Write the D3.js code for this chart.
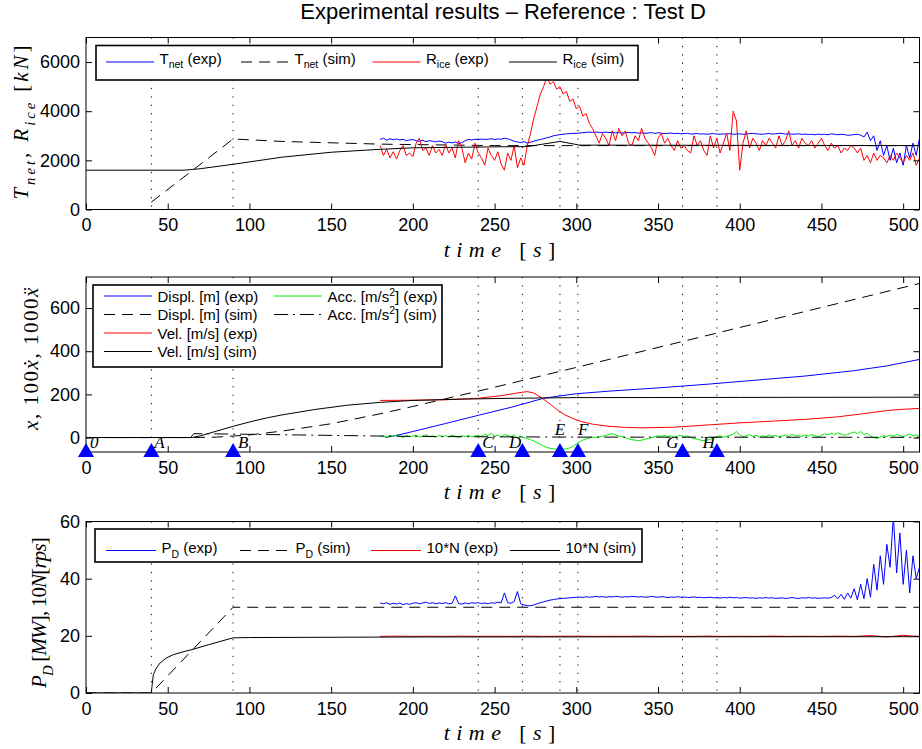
<!DOCTYPE html>
<html>
<head>
<meta charset="utf-8">
<script src="https://cdn.jsdelivr.net/npm/d3@7"></script>
<style>
  body { margin: 0; background: #fff; }
  .tex { font-family: "Liberation Serif", "Times New Roman", serif; font-style: italic; }
</style>
</head>
<body>
<div id="chart"></div>
<script>
// ---------- data ----------
const xTicks = [0, 50, 100, 150, 200, 250, 300, 350, 400, 450, 500];
const eventTimes = [40, 90, 240, 267, 290, 301, 365, 386];
const markerTimes = [0, 40, 90, 240, 267, 290, 301, 365, 386];
const markerLabels = ['0', 'A', 'B', 'C', 'D', 'E', 'F', 'G', 'H'];

// sampling grid of the measured (noisy) signals, every 2 s from 180 s
const expTime = d3.range(180, 511, 2);

// panel 1 : forces [kN]
const tNetExp = [
  2850, 2900, 2820, 2880, 2840, 2870, 2830, 2860, 2800, 2830,
  2850, 2800, 2780, 2820, 2760, 2800, 2780, 2750, 2790, 2760,
  2700, 2740, 2710, 2750, 2680, 2720, 2800, 2850, 2830, 2860,
  2840, 2870, 2850, 2860, 2880, 2850, 2870, 2860, 2900, 2880,
  2830, 2780, 2750, 2720, 2760, 2700, 2740, 2780, 2820, 2850,
  2880, 2920, 2950, 3000, 3020, 3050, 3060, 3080, 3090, 3100,
  3100, 3110, 3130, 3140, 3150, 3140, 3150, 3140, 3130, 3150,
  3130, 3140, 3120, 3130, 3110, 3120, 3140, 3120, 3130, 3110,
  3120, 3100, 3110, 3130, 3100, 3120, 3110, 3090, 3100, 3110,
  3090, 3100, 3080, 3090, 3100, 3070, 3080, 3090, 3070, 3080,
  3060, 3080, 3090, 3070, 3060, 3080, 3070, 3090, 3060, 3070,
  3080, 3060, 3070, 3090, 3100, 3080, 3070, 3060, 3080, 3090,
  3070, 3080, 3100, 3090, 3070, 3080, 3060, 3070, 3080, 3060,
  3070, 3050, 3060, 3040, 3070, 3050, 3060, 3040, 3080, 3060,
  3040, 3060, 3050, 3020, 3030, 3050, 3060, 3030, 2950, 3150,
  2800, 3000, 2400, 2800, 2200, 2600, 2000, 2500, 1900, 2300,
  1800, 2600, 2100, 2700, 2200, 2900
];
const rIceExp = [
  2600, 2200, 2450, 2100, 2350, 2050, 2400, 2600, 2200, 2300,
  2150, 2700, 2900, 2400, 2500, 2200, 2600, 2300, 2450, 2200,
  2650, 2300, 2500, 2100, 2800, 2500, 1900, 2300, 2050, 2700,
  2300, 2100, 1800, 2500, 2200, 2000, 2350, 1850, 1600, 2300,
  2000, 2600, 1700, 2100, 1800, 2600, 3100, 3700, 4200, 4700,
  5000, 5400, 5100, 5200, 4900, 5000, 4700, 4800, 4400, 4500,
  4100, 4200, 3800, 3900, 3500, 3300, 3000, 2700, 3100, 2900,
  2600, 3200, 2800, 3300, 3000, 3200, 2700, 2600, 3000, 2800,
  3300, 2900, 2700, 2500, 2200, 2900, 3100, 2700, 2900, 2600,
  2400, 2800, 2500, 2600, 2400, 2300, 3000, 2600, 2800, 2400,
  2200, 3000, 2500, 2900, 2300, 2700, 3100, 2400, 4000, 3600,
  1600, 2700, 3200, 2500, 2900, 2700, 2400, 2800, 2600, 2900,
  2700, 2500, 3000, 2600, 2800, 3200, 2600, 2800, 2500, 2900,
  2700, 2600, 2800, 2500, 2700, 2900, 2600, 2400, 2700, 2500,
  2600, 2300, 2500, 2400, 2600, 2500, 2300, 2500, 2000, 2200,
  1900, 2300, 2000, 2200, 2100, 1900, 2200, 2000, 2300, 2100,
  1900, 2200, 2000, 2300, 1800, 2100
];
const tNetSimTime = [40, 90, 120, 180, 250, 290, 510];
const tNetSim = [300, 2870, 2770, 2660, 2600, 2600, 2600];
const rIceSimTime = [0, 60, 70, 90, 120, 150, 180, 200, 250, 270, 290, 302, 510];
const rIceSim = [1600, 1600, 1660, 1840, 2130, 2330, 2450, 2510, 2550, 2560, 2770, 2620, 2600];

// panel 2 : motion (x, 100*v, 1000*a)
const displExpTime = [183, 190, 200, 220, 240, 260, 280, 290, 300, 320, 350, 380, 410, 440, 470, 490, 510];
const displExp = [0, 10, 28, 65, 103, 140, 182, 193, 203, 215, 230, 247, 266, 285, 310, 332, 362];
const displSimTime = [0, 65, 80, 100, 120, 150, 180, 200, 250, 300, 400, 510];
const displSim = [0, 0, 2, 12, 30, 64, 110, 144, 233, 325, 510, 714];
const velExpTime = [180, 200, 220, 240, 255, 265, 270, 274, 279, 284, 288, 293, 298, 303, 310, 320, 330, 340, 360, 380, 400, 420, 440, 460, 475, 490, 500, 510];
const velExp = [172, 173, 175, 182, 195, 208, 213, 206, 183, 155, 130, 105, 88, 74, 62, 52, 47, 45, 48, 58, 68, 76, 84, 96, 110, 125, 131, 135];
const velSimTime = [0, 65, 70, 80, 90, 100, 110, 120, 140, 160, 180, 200, 230, 260, 300, 400, 510];
const velSim = [0, 0, 8, 30, 52, 72, 90, 105, 130, 150, 163, 172, 178, 182, 185, 186, 187];
const accExp = [
  5, 8, 2, 10, 4, 12, 6, 0, 9, 3,
  7, 11, 2, 6, 14, 4, 8, 1, 10, 5,
  9, 3, 12, 6, 0, 8, 4, 10, 2, 7,
  11, 4, 16, 8, 20, 6, 12, 2, 14, 10,
  4, 12, -2, 6, 0, -6, -10, -16, -24, -32,
  -40, -46, -50, -52, -54, -55, -54, -52, -48, -40,
  -30, -20, -12, -6, -2, 2, 0, 4, 6, 10,
  14, 18, 12, 8, 4, -2, -6, -10, -12, -14,
  -12, -8, -4, 0, 4, 8, 6, 10, 4, 8,
  2, 6, 10, 4, 8, 0, -4, -8, -12, -14,
  -12, -8, -2, 4, 8, 2, 6, 10, 16, 28,
  12, 4, 8, 14, 6, 10, 2, 8, 4, 12,
  6, 10, 2, 8, 12, 4, 16, 8, 10, 4,
  12, 6, 14, 8, 4, 10, 18, 12, 20, 14,
  22, 16, 10, 14, 20, 26, 18, 28, 14, 20,
  6, 0, -4, 2, 8, 4, 12, 6, 14, 8,
  4, 10, 16, 8, 12, 6
];
const accSimTime = [0, 64, 66, 80, 100, 130, 160, 190, 230, 300, 510];
const accSim = [0, 0, 18, 17, 15, 12, 9, 6, 4, 2, 1];

// panel 3 : power [MW] and 10*N [rps]
const pdExp = [
  31.5, 31.2, 31.6, 31.0, 31.4, 31.1, 31.5, 30.9, 31.3, 31.0,
  31.4, 31.6, 31.2, 31.5, 31.8, 31.3, 31.6, 31.2, 31.5, 31.3,
  31.6, 31.2, 31.4, 34.0, 31.3, 31.1, 31.5, 31.2, 31.6, 31.4,
  31.6, 31.3, 31.5, 31.2, 31.6, 31.4, 31.8, 31.5, 35.0, 31.6,
  31.4, 32.0, 35.5, 31.2, 30.8, 30.6, 30.5, 30.8, 31.2, 31.6,
  31.9, 32.2, 32.5, 32.7, 32.9, 33.0, 33.1, 33.2, 33.3, 33.4,
  33.5, 33.6, 33.4, 33.7, 33.5, 33.6, 33.8, 33.6, 33.7, 33.5,
  33.7, 33.6, 33.8, 33.7, 33.5, 33.7, 33.6, 33.8, 33.7, 33.6,
  33.7, 33.5, 33.6, 33.8, 33.6, 33.5, 33.7, 33.6, 33.4, 33.6,
  33.5, 33.7, 33.5, 33.6, 33.4, 33.5, 33.6, 33.4, 33.5, 33.3,
  33.4, 33.5, 33.3, 33.4, 33.2, 33.4, 33.3, 33.5, 33.3, 33.4,
  33.2, 33.3, 33.4, 33.2, 33.3, 33.1, 33.3, 33.2, 33.4, 33.2,
  33.3, 33.1, 33.2, 33.3, 33.1, 33.2, 33.4, 33.2, 33.1, 33.3,
  33.2, 33.4, 33.2, 33.3, 33.1, 33.2, 33.3, 33.2, 33.4, 34.2,
  33.0, 34.5, 32.8, 35.0, 33.2, 36.5, 32.6, 38.0, 33.0, 40.0,
  33.5, 45.0, 36.0, 48.0, 38.0, 52.0, 44.0, 62.0, 42.0, 56.0,
  38.0, 50.0, 35.0, 48.0, 40.0, 44.0
];
const pdSimTime = [0, 40, 90, 510];
const pdSim = [0, 0, 30, 30];
const nExpTime = d3.range(180, 511, 10);
const nExp = [
  19.8, 19.9, 19.8, 19.85, 19.8, 19.9, 19.8, 19.85, 19.8, 19.9,
  19.8, 19.85, 19.9, 19.8, 19.85, 19.8, 19.9, 19.8, 19.85, 19.8,
  19.9, 19.8, 19.85, 19.8, 19.9, 19.8, 19.85, 19.8, 19.9, 19.8,
  20.1, 19.6, 20.2, 19.7
];
const nSimTime = [0, 40, 40.5, 41.2, 43, 45.3, 49, 53.4, 60, 65.6, 75, 90, 100, 200, 510];
const nSim = [0, 0, 3, 6.4, 8.7, 10.5, 12.2, 13.4, 14.5, 15.3, 16.9, 19.3, 19.4, 19.6, 19.7];

// ---------- drawing ----------
const W = 922, H = 749;
const SANS = '"Liberation Sans", Arial, Helvetica, sans-serif';
const svg = d3.select('#chart').append('svg').attr('width', W).attr('height', H);
const x = d3.scaleLinear().domain([0, 510]).range([86, 919.5]);

// text made of segments: [string, style] with style 'up', 'sub', 'sup'
function richText(parent, segs, size, cls) {
  const t = parent.append('text').attr('font-size', size);
  if (cls) t.attr('class', cls); else t.attr('font-family', SANS);
  let shift = 0;
  segs.forEach(([str, st = '']) => {
    const target = st.includes('sub') ? size * 0.33 : st.includes('sup') ? -size * 0.38 : 0;
    const sp = t.append('tspan').attr('dy', target - shift).text(str);
    shift = target;
    if (st.includes('sub') || st.includes('sup')) sp.attr('font-size', size * 0.7);
    if (st.includes('up')) sp.attr('font-style', 'normal');
  });
  return t;
}
function fitWidth(t, target) {
  const len = t.node().getComputedTextLength();
  const n = t.text().length;
  t.attr('letter-spacing', ((target - len) / n).toFixed(2));
}

function drawPanel(p) {
  const y = d3.scaleLinear().domain(p.yDomain).range([p.bottom, p.top]);
  const [x0, x1] = x.range();
  const g = svg.append('g');
  const clipId = 'clip-' + p.name;
  svg.append('clipPath').attr('id', clipId).append('rect')
    .attr('x', x0).attr('y', p.top).attr('width', x1 - x0).attr('height', p.bottom - p.top);

  // event markers (dotted verticals)
  g.selectAll('.ev').data(eventTimes).join('line')
    .attr('x1', d => x(d)).attr('x2', d => x(d))
    .attr('y1', p.top).attr('y2', p.bottom)
    .attr('stroke', '#000').attr('stroke-width', 1).attr('stroke-dasharray', '1.2,7.2');

  const plot = g.append('g').attr('clip-path', `url(#${clipId})`);
  const line = d3.line().x(d => x(d[0])).y(d => y(d[1]));
  p.series.forEach(s => {
    plot.append('path')
      .datum(d3.zip(s.t, s.v))
      .attr('fill', 'none')
      .attr('stroke', s.color)
      .attr('stroke-width', 1)
      .attr('stroke-linejoin', 'round')
      .attr('stroke-dasharray', s.dash || null)
      .attr('d', line);
  });

  // axes, MATLAB style ticks pointing inward on all four sides
  const styleAxis = a => {
    a.select('.domain').remove();
    a.attr('font-size', 18).attr('font-family', SANS);
    a.selectAll('line').attr('stroke', '#000');
  };
  g.append('g').attr('transform', `translate(0,${p.bottom})`)
    .call(d3.axisBottom(x).tickValues(xTicks).tickSize(-6).tickPadding(9)).call(styleAxis);
  g.append('g').attr('transform', `translate(0,${p.top})`)
    .call(d3.axisTop(x).tickValues(xTicks).tickSize(-6).tickFormat('')).call(styleAxis);
  g.append('g').attr('transform', `translate(${x0},0)`)
    .call(d3.axisLeft(y).tickValues(p.yTicks).tickSize(-6).tickPadding(6).tickFormat(d3.format('d')))
    .call(styleAxis);
  g.append('g').attr('transform', `translate(${x1},0)`)
    .call(d3.axisRight(y).tickValues(p.yTicks).tickSize(-6).tickFormat('')).call(styleAxis);

  g.append('rect').attr('x', x0).attr('y', p.top).attr('width', x1 - x0).attr('height', p.bottom - p.top)
    .attr('fill', 'none').attr('stroke', '#000').attr('stroke-width', 1);

  // axis labels
  const xl = richText(g, [['time'], [' [', 'up'], ['s'], [']', 'up']], 22, 'tex')
    .attr('x', (x0 + x1) / 2).attr('y', p.bottom + 47).attr('text-anchor', 'middle');
  fitWidth(xl, 118);
  const yl = richText(g, p.yLabel, 21, 'tex')
    .attr('text-anchor', 'middle')
    .attr('transform', `translate(${p.yLabelPos[0]},${p.yLabelPos[1]}) rotate(-90)`);
  fitWidth(yl, p.yLabelLen);

  return { g, y };
}

function drawLegend(box, entries) {
  const lg = svg.append('g');
  lg.append('rect').attr('x', box.x).attr('y', box.y).attr('width', box.w).attr('height', box.h)
    .attr('fill', '#fff').attr('stroke', '#000').attr('stroke-width', 1.6);
  entries.forEach(e => {
    lg.append('line')
      .attr('x1', e.x).attr('x2', e.x + e.len).attr('y1', e.ly).attr('y2', e.ly)
      .attr('stroke', e.s.color).attr('stroke-width', 1)
      .attr('stroke-dasharray', e.s.dash || null);
    richText(lg, e.s.label, 15).attr('x', e.x + e.len + 5.5).attr('y', e.by);
  });
}

// series styles + labels
const DASH = '11,7';
const DASHDOT = '14,5,2,5';
const s1 = [
  { t: expTime, v: tNetExp, color: '#0000ff', label: [['T'], ['net', 'sub'], [' (exp)']] },
  { t: tNetSimTime, v: tNetSim, color: '#000', dash: DASH, label: [['T'], ['net', 'sub'], [' (sim)']] },
  { t: expTime, v: rIceExp, color: '#ff0000', label: [['R'], ['ice', 'sub'], [' (exp)']] },
  { t: rIceSimTime, v: rIceSim, color: '#000', label: [['R'], ['ice', 'sub'], [' (sim)']] }
];
const s2 = [
  { t: displExpTime, v: displExp, color: '#0000ff', label: [['Displ. [m] (exp)']] },
  { t: displSimTime, v: displSim, color: '#000', dash: DASH, label: [['Displ. [m] (sim)']] },
  { t: velExpTime, v: velExp, color: '#ff0000', label: [['Vel. [m/s] (exp)']] },
  { t: velSimTime, v: velSim, color: '#000', label: [['Vel. [m/s] (sim)']] },
  { t: expTime, v: accExp, color: '#00ee00', label: [['Acc. [m/s'], ['2', 'sup'], ['] (exp)']] },
  { t: accSimTime, v: accSim, color: '#000', dash: DASHDOT, label: [['Acc. [m/s'], ['2', 'sup'], ['] (sim)']] }
];
const s3 = [
  { t: expTime, v: pdExp, color: '#0000ff', label: [['P'], ['D', 'sub'], [' (exp)']] },
  { t: pdSimTime, v: pdSim, color: '#000', dash: DASH, label: [['P'], ['D', 'sub'], [' (sim)']] },
  { t: nExpTime, v: nExp, color: '#ee0000', label: [['10*N (exp)']] },
  { t: nSimTime, v: nSim, color: '#000', label: [['10*N (sim)']] }
];

// title
svg.append('text').attr('x', 503).attr('y', 19).attr('text-anchor', 'middle')
  .attr('font-family', SANS).attr('font-size', 22)
  .text('Experimental results \u2013 Reference : Test D');

drawPanel({
  name: 'p1', top: 37.5, bottom: 209.5, yDomain: [0, 7000], yTicks: [0, 2000, 4000, 6000],
  series: s1,
  yLabel: [['T'], ['net', 'sub'], [', ', 'up'], ['R'], ['ice', 'sub'], [' [', 'up'], ['kN'], [']', 'up']],
  yLabelPos: [28, 121], yLabelLen: 157
});
drawLegend({ x: 96, y: 45.5, w: 542, h: 34.5 }, s1.map((s, i) => ({
  s, x: [106, 241, 372.5, 509][i], len: 48, ly: 62, by: 63.5
})));

const p2 = drawPanel({
  name: 'p2', top: 277, bottom: 452, yDomain: [-67, 744], yTicks: [0, 200, 400, 600],
  series: s2,
  yLabel: [['x'], [', 100', 'up'], ['x\u0307'], [', 1000', 'up'], ['x\u0308']],
  yLabelPos: [37.5, 358], yLabelLen: 147
});
drawLegend({ x: 93, y: 285, w: 349, h: 82 }, s2.map((s, i) => {
  const col = i < 4 ? 0 : 1, row = i < 4 ? i : i - 4;
  const ly = 296 + row * 18.5;
  return { s, x: col ? 274 : 104, len: 48, ly, by: ly + 5.5 };
}));

// event triangles on the bottom axis of the motion panel
const triY = p2.y.range()[0];
svg.append('g').selectAll('path').data(markerTimes).join('path')
  .attr('d', d => `M${x(d)},${triY - 9}L${x(d) + 8},${triY + 5}L${x(d) - 8},${triY + 5}Z`)
  .attr('fill', '#0000ff');
const labelPlace = {
  '0': [4, -4, 'start'], A: [3, -4, 'start'], B: [5, -4, 'start'], C: [4, -4, 'start'],
  D: [-1, -4, 'end'], E: [0, -17, 'middle'], F: [0, -17, 'start'], G: [-4, -4, 'end'], H: [-2, -4, 'end']
};
svg.append('g').selectAll('text').data(markerTimes).join('text')
  .attr('class', 'tex').attr('font-size', 17)
  .attr('x', (d, i) => x(d) + labelPlace[markerLabels[i]][0])
  .attr('y', (d, i) => triY + labelPlace[markerLabels[i]][1])
  .attr('text-anchor', (d, i) => labelPlace[markerLabels[i]][2])
  .text((d, i) => markerLabels[i]);

drawPanel({
  name: 'p3', top: 521.5, bottom: 693, yDomain: [0, 60], yTicks: [0, 20, 40, 60],
  series: s3,
  yLabel: [['P'], ['D', 'sub'], [' [', 'up'], ['MW'], ['], 10', 'up'], ['N'], ['[', 'up'], ['rps'], [']', 'up']],
  yLabelPos: [46, 613], yLabelLen: 150
});
drawLegend({ x: 95, y: 529, w: 547, h: 33 }, s3.map((s, i) => ({
  s, x: [106, 240, 371, 510][i], len: 50, ly: 550.5, by: 553
})));
</script>
</body>
</html>
